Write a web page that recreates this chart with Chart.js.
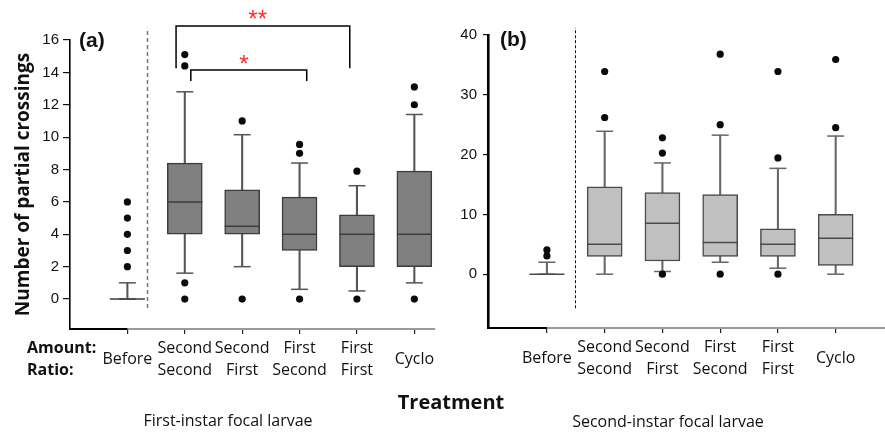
<!DOCTYPE html>
<html><head><meta charset="utf-8">
<script src="https://cdn.jsdelivr.net/npm/chart.js@4"></script>
<style>
html,body{margin:0;padding:0;background:#fff;}
#wrap{position:relative;width:885px;height:433px;overflow:hidden;background:#fff;}
canvas{position:absolute;top:0;}
.t{position:absolute;white-space:nowrap;color:#111;}
</style></head><body>
<div id="wrap">
<canvas id="ca" width="445" height="433" style="left:0"></canvas>
<canvas id="cb" width="440" height="433" style="left:445px"></canvas>
<div class="t" style="left:27px;top:336px;font:bold 16px 'Open Sans';line-height:22px">Amount:</div>
<div class="t" style="left:27px;top:358px;font:bold 16px 'Open Sans';line-height:22px">Ratio:</div>
<div class="t" style="left:79px;top:28px;font:bold 21px 'Liberation Sans';line-height:24px">(a)</div>
<div class="t" style="left:500px;top:27px;font:bold 21px 'Liberation Sans';line-height:24px">(b)</div>
<div class="t" style="left:451px;top:390px;transform:translateX(-50%);font:bold 20px 'Open Sans';line-height:24px">Treatment</div>
<div class="t" style="left:228px;top:409px;transform:translateX(-50%);font:16px 'Open Sans';line-height:22px">First-instar focal larvae</div>
<div class="t" style="left:668px;top:410px;transform:translateX(-50%);font:16px 'Open Sans';line-height:22px">Second-instar focal larvae</div>
</div>
<script>
// ---------- data ----------
const categories = ["Before", "Second/Second", "Second/First", "First/Second", "First/First", "Cyclo"];
const categoryLines = [["Before"], ["Second", "Second"], ["Second", "First"], ["First", "Second"], ["First", "First"], ["Cyclo"]];

// Panel (a): first-instar focal larvae
const aWhiskerLow  = [0, 1.6, 2, 0.6, 0.5, 1];
const aQ1          = [0, 4, 4, 3, 2, 2];
const aMedian      = [0, 6, 4.5, 4, 4, 4];
const aQ3          = [0, 8.4, 6.75, 6.3, 5.2, 7.9];
const aWhiskerHigh = [1, 12.8, 10.15, 8.4, 7, 11.4];
const aOutliers    = [[2, 3, 4, 5, 6], [0, 1, 14.4, 15.1], [0, 11], [0, 9, 9.55], [0, 7.9], [0, 12, 13.1]];
const aYTicks      = [0, 2, 4, 6, 8, 10, 12, 14, 16];

// Panel (b): second-instar focal larvae
const bWhiskerLow  = [0, 0, 0.45, 2, 1, 0];
const bQ1          = [0, 2.95, 2.2, 2.95, 2.95, 1.45];
const bMedian      = [0, 5, 8.5, 5.3, 5, 6];
const bQ3          = [0, 14.6, 13.65, 13.3, 7.6, 10];
const bWhiskerHigh = [2, 23.9, 18.6, 23.25, 17.7, 23.1];
const bOutliers    = [[3.05, 4.05], [26.2, 33.9], [0, 20.25, 22.8], [0, 25, 36.8], [0, 19.45, 33.9], [24.5, 35.9]];
const bYTicks      = [0, 10, 20, 30, 40];

// Significance labels (panel a)
const sigLabels = ["**", "*"];

// ---------- builders ----------
function boxDatasets(lo, q1, med, q3, hi, outs, st) {
  const idx = categories.map((c, i) => i);
  const outPts = [];
  outs.forEach((arr, i) => arr.forEach(v => outPts.push({x: i, y: v})));
  return [
    {type: 'bar', data: idx.map(i => ({x: i, y: [lo[i], hi[i]]})), barThickness: 1.4,
     backgroundColor: st.whisker, grouped: false, order: 5},
    {type: 'bar', data: idx.map(i => ({x: i, y: [q1[i], q3[i]]})), barThickness: 35,
     backgroundColor: st.fill, borderColor: st.border, borderWidth: 1.5, borderSkipped: false, grouped: false, order: 4},
    {type: 'scatter', data: idx.map(i => ({x: i, y: lo[i]})).concat(idx.map(i => ({x: i, y: hi[i]}))),
     pointStyle: 'line', pointRadius: 8.5, pointBorderColor: st.whisker, pointBorderWidth: 1.5, order: 3},
    {type: 'scatter', data: idx.map(i => ({x: i, y: med[i]})),
     pointStyle: 'line', pointRadius: 17.5, pointBorderColor: st.border, pointBorderWidth: 1.5, order: 2},
    {type: 'scatter', data: outPts, pointStyle: 'circle', pointRadius: 3.6,
     pointBackgroundColor: '#0a0a0a', pointBorderWidth: 0, order: 1}
  ];
}

function annotPlugin(cfg) {
  return {
    id: 'annot',
    afterDatasetsDraw(chart) {
      const {ctx, scales: {x, y}, chartArea} = chart;
      ctx.save();
      // black segment of the x axis left of the first category
      ctx.strokeStyle = '#000'; ctx.lineWidth = 2; ctx.setLineDash([]);
      ctx.beginPath();
      ctx.moveTo(x.getPixelForValue(x.min) - 1, chartArea.bottom);
      ctx.lineTo(x.getPixelForValue(0), chartArea.bottom);
      ctx.stroke();
      // dashed separator
      const s = cfg.sep;
      ctx.strokeStyle = s.color; ctx.lineWidth = s.width; ctx.setLineDash(s.dash);
      ctx.beginPath();
      ctx.moveTo(Math.round(x.getPixelForValue(s.x)) + 0.5, y.getPixelForValue(s.y0));
      ctx.lineTo(Math.round(x.getPixelForValue(s.x)) + 0.5, y.getPixelForValue(s.y1));
      ctx.stroke();
      ctx.setLineDash([]);
      // brackets
      (cfg.brackets || []).forEach((b, k) => {
        ctx.strokeStyle = '#000'; ctx.lineWidth = 1.5;
        const x0 = x.getPixelForValue(b.from), x1 = x.getPixelForValue(b.to);
        const yt = y.getPixelForValue(b.top), yb = y.getPixelForValue(b.legEnd);
        ctx.beginPath();
        ctx.moveTo(x0, yb); ctx.lineTo(x0, yt); ctx.lineTo(x1, yt); ctx.lineTo(x1, yb);
        ctx.stroke();
        ctx.fillStyle = '#ff2a2a';
        ctx.font = '24px "Liberation Sans"';
        ctx.textAlign = 'center'; ctx.textBaseline = 'alphabetic';
        const m = ctx.measureText(sigLabels[k]);
        const cy = y.getPixelForValue(b.labelY);
        const off = (m.actualBoundingBoxAscent - m.actualBoundingBoxDescent) / 2;
        ctx.fillText(sigLabels[k], x.getPixelForValue(b.labelX), cy + off);
      });
      ctx.restore();
    }
  };
}

function makeChart(id, p) {
  return new Chart(document.getElementById(id), {
    type: 'bar',
    data: {datasets: boxDatasets(p.lo, p.q1, p.med, p.q3, p.hi, p.outs, p.style)},
    plugins: [annotPlugin(p.annot)],
    options: {
      responsive: false, animation: false, events: [],
      layout: {padding: p.padding, autoPadding: false},
      plugins: {legend: {display: false}, tooltip: {enabled: false}},
      scales: {
        x: {
          type: 'linear', min: p.xMin, max: p.xMax, offset: false,
          afterBuildTicks: s => { s.ticks = categories.map((c, i) => ({value: i})); },
          afterFit: s => { s.height = p.xHeight; s.paddingLeft = 0; s.paddingRight = 0; },
          ticks: {
            callback: (v, i) => categoryLines[i] && categoryLines[i].length === 1 ? categoryLines[i][0] : categoryLines[i],
            crossAlign: 'center', padding: p.xPad, color: '#111', maxRotation: 0, autoSkip: false,
            font: {family: 'Open Sans', size: 16, lineHeight: 1.375}
          },
          grid: {drawOnChartArea: false, offset: false, tickLength: 5, color: '#222', lineWidth: 1.2},
          border: {display: true, color: '#9a9a9a', width: 2}
        },
        y: {
          type: 'linear', min: p.yMin, max: p.yMax,
          afterBuildTicks: s => { s.ticks = p.yTicks.map(v => ({value: v})); },
          afterFit: s => { s.width = p.yWidth; s.paddingTop = 0; s.paddingBottom = 0; },
          ticks: {color: '#111', padding: p.yPad, font: {family: 'Liberation Sans', size: 15}},
          grid: {drawOnChartArea: false, offset: false, tickLength: p.yTick, color: '#111', lineWidth: 1.2},
          border: {display: true, color: '#000', width: p.yBorder},
          title: p.yTitle
        }
      }
    }
  });
}

makeChart('ca', {
  lo: aWhiskerLow, q1: aQ1, med: aMedian, q3: aQ3, hi: aWhiskerHigh, outs: aOutliers,
  style: {fill: '#808080', border: '#3c3c3c', whisker: '#555555'},
  padding: {left: 0, top: 40, right: 10, bottom: 0},
  xMin: -1, xMax: 5.36, xHeight: 104, xPad: 14,
  yMin: -1.85, yMax: 16, yTicks: aYTicks, yWidth: 70, yPad: 4, yTick: 7, yBorder: 1.6,
  yTitle: {display: true, text: 'Number of partial crossings', color: '#111',
           font: {family: 'Open Sans', size: 19, weight: 'bold'}, padding: {top: 12, bottom: 0}},
  annot: {
    sep: {x: 0.338, y0: -0.55, y1: 16.75, color: '#777', width: 1.5, dash: [4, 3]},
    brackets: [
      {from: 0.848, to: 3.875, top: 16.87, legEnd: 14.26, labelX: 2.27, labelY: 17.55},
      {from: 1.105, to: 3.125, top: 14.14, legEnd: 13.46, labelX: 2.03, labelY: 14.81}
    ]
  }
});

makeChart('cb', {
  lo: bWhiskerLow, q1: bQ1, med: bMedian, q3: bQ3, hi: bWhiskerHigh, outs: bOutliers,
  style: {fill: '#c0c0c0', border: '#4a4a4a', whisker: '#666666'},
  padding: {left: 0, top: 35, right: 0, bottom: 0},
  xMin: -1.02, xMax: 5.854, xHeight: 105, xPad: 14,
  yMin: -9, yMax: 40, yTicks: bYTicks, yWidth: 43, yPad: 6, yTick: 5, yBorder: 2.6,
  yTitle: {display: false},
  annot: {
    sep: {x: 0.495, y0: -5.7, y1: 41.2, color: '#111', width: 1, dash: [3, 2]},
    brackets: []
  }
});
</script>
</body></html>
